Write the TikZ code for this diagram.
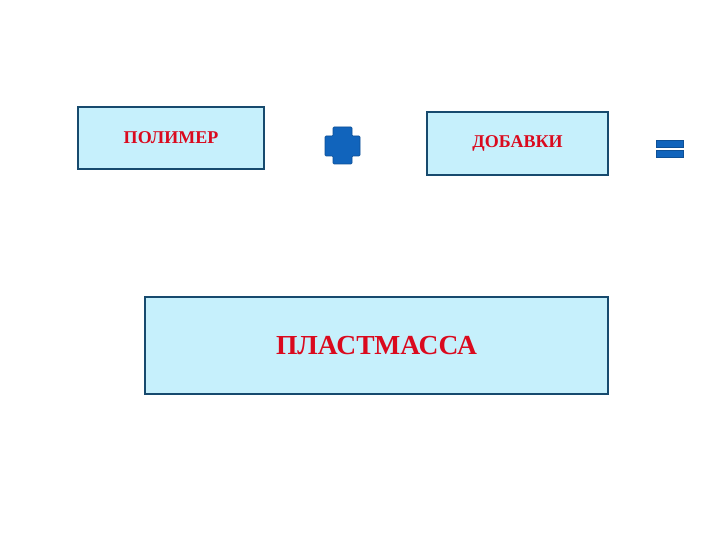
\documentclass[tikz,border=0pt]{standalone}
\usepackage{fontspec}
\setmainfont{Liberation Serif}
\definecolor{boxfill}{HTML}{C6F0FC}
\definecolor{boxline}{HTML}{174A6E}
\definecolor{txtred}{HTML}{DA0A1E}
\definecolor{signblue}{HTML}{1164BC}
\begin{document}
\begin{tikzpicture}[x=1pt,y=-1pt,
  termbox/.style={draw=boxline,fill=boxfill,line width=2pt,inner sep=0pt,text=txtred,font=\bfseries},
  sign/.style={fill=signblue,draw=signblue!80!black,line width=0.6pt}]
\useasboundingbox (0,0) rectangle (720,540);
\node[termbox,minimum width=186pt,minimum height=62pt,font=\bfseries\fontsize{18}{21}\selectfont] (pol) at (171,138) {ПОЛИМЕР};
\node[termbox,minimum width=181pt,minimum height=63pt,font=\bfseries\fontsize{18}{21}\selectfont] (dob) at (517.5,143.5) {ДОБАВКИ};
\node[termbox,minimum width=463pt,minimum height=97pt,font=\bfseries\fontsize{27.5}{32}\selectfont] (pla) at (376.5,345.5) {ПЛАСТМАССА};
% plus sign
\draw[sign,rounded corners=1pt] (333,127) -- (352,127) -- (352,136) -- (360,136) -- (360,156) -- (352,156) -- (352,164) -- (333,164) -- (333,156) -- (325,156) -- (325,136) -- (333,136) -- cycle;
% equals sign
\draw[sign] (656,140) rectangle (683,147);
\draw[sign] (656,150) rectangle (683,157);
\end{tikzpicture}
\end{document}
